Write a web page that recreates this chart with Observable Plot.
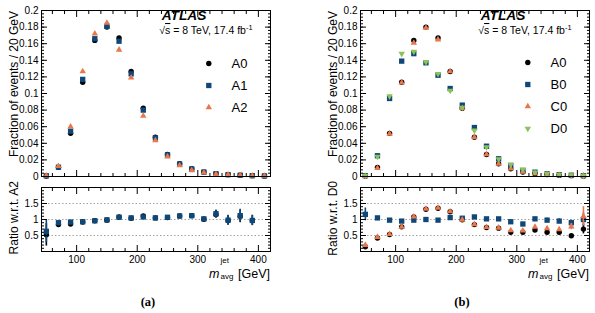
<!DOCTYPE html>
<html>
<head>
<meta charset="utf-8">
<script src="https://cdn.jsdelivr.net/npm/d3@7"></script>
<script src="https://cdn.jsdelivr.net/npm/@observablehq/plot@0.6"></script>
<style>
  body { margin: 0; background: #fff; }
  #fig { position: relative; width: 595px; height: 313px; overflow: hidden; background: #fff; }
  #fig svg { position: absolute; }
</style>
</head>
<body>
<div id="fig"></div>
<script>
// Jet-mass bin centres (GeV), 20 GeV bins
const massBins = [50, 70, 90, 110, 130, 150, 170, 190, 210, 230, 250, 270, 290, 310, 330, 350, 370, 390, 410];

// Normalised distributions (fraction of events per 20 GeV)
const fracA0 = [0.0005, 0.011, 0.052, 0.1136, 0.164, 0.180, 0.167, 0.1265, 0.0823, 0.0474, 0.0265, 0.0153, 0.0093, 0.0055, 0.0034, 0.0023, 0.0015, 0.0010, 0.0007];
const fracA1 = [0.0008, 0.0112, 0.0546, 0.117, 0.166, 0.181, 0.163, 0.1237, 0.0800, 0.0465, 0.0260, 0.0150, 0.0090, 0.0053, 0.0033, 0.0022, 0.0015, 0.0010, 0.0007];
const fracA2 = [0.0010, 0.0125, 0.060, 0.1265, 0.172, 0.185, 0.1526, 0.119, 0.0730, 0.0434, 0.0240, 0.0133, 0.0075, 0.0048, 0.0028, 0.0021, 0.0013, 0.0010, 0.0006];
const fracB0 = [0.0010, 0.025, 0.094, 0.139, 0.148, 0.137, 0.122, 0.106, 0.086, 0.059, 0.0365, 0.0213, 0.0133, 0.0072, 0.0052, 0.0032, 0.0022, 0.0015, 0.0010];
const fracC0 = [0.0003, 0.010, 0.0514, 0.113, 0.161, 0.179, 0.165, 0.1265, 0.0823, 0.0474, 0.0265, 0.0153, 0.0095, 0.0055, 0.0039, 0.0024, 0.0016, 0.0013, 0.0011];
const fracD0 = [0.0010, 0.024, 0.0968, 0.148, 0.1506, 0.138, 0.1237, 0.1036, 0.083, 0.0555, 0.0355, 0.0210, 0.0143, 0.0085, 0.0051, 0.0033, 0.0023, 0.0017, 0.0010];

// Ratios with respect to A2 (bins 50-390 GeV)
const ratioBinsA = [50, 70, 90, 110, 130, 150, 170, 190, 210, 230, 250, 270, 290, 310, 330, 350, 370, 390];
const ratioA0A2 = [0.52, 0.84, 0.86, 0.92, 0.96, 0.98, 1.08, 1.04, 1.11, 1.05, 1.06, 1.11, 1.12, 1.01, 1.16, 0.97, 1.10, 0.97];
const ratioA1A2 = [0.63, 0.90, 0.92, 0.93, 0.96, 0.99, 1.07, 1.05, 1.08, 1.05, 1.07, 1.11, 1.12, 1.02, 1.18, 0.98, 1.12, 0.97];
const errRatioA = [0.35, 0.04, 0.04, 0.03, 0.02, 0.02, 0.03, 0.03, 0.04, 0.03, 0.04, 0.05, 0.06, 0.05, 0.12, 0.15, 0.20, 0.16];

// Ratios with respect to D0 (bins 50-410 GeV)
const ratioA0D0 = [0.15, 0.42, 0.53, 0.77, 1.08, 1.32, 1.35, 1.24, 0.99, 0.84, 0.75, 0.73, 0.60, 0.60, 0.67, 0.60, 0.60, 0.49, 0.70];
const ratioB0D0 = [1.16, 1.05, 0.98, 0.95, 0.98, 1.00, 0.98, 1.06, 1.04, 1.08, 1.02, 1.02, 0.93, 0.86, 1.02, 0.98, 0.95, 0.90, 1.00];
const ratioC0D0 = [0.20, 0.45, 0.54, 0.77, 1.09, 1.33, 1.36, 1.25, 0.99, 0.85, 0.76, 0.74, 0.66, 0.65, 0.77, 0.72, 0.69, 0.78, 1.10];
const errA0D0 = [0.03, 0.02, 0.02, 0.02, 0.02, 0.02, 0.02, 0.02, 0.02, 0.02, 0.02, 0.02, 0.03, 0.03, 0.03, 0.03, 0.03, 0.04, 0.15];
const errB0D0 = [0.20, 0.03, 0.02, 0.02, 0.02, 0.02, 0.02, 0.02, 0.02, 0.03, 0.03, 0.03, 0.04, 0.04, 0.05, 0.06, 0.07, 0.08, 0.20];
const errC0D0 = [0.05, 0.02, 0.02, 0.02, 0.02, 0.02, 0.02, 0.02, 0.02, 0.02, 0.02, 0.03, 0.04, 0.04, 0.05, 0.05, 0.06, 0.10, 0.30];

// Axis ticks and labels
const xMajorTicks = [100, 200, 300, 400];
const xMinorTicks = d3.range(60, 420, 20).filter(v => v % 100 !== 0);
const yMainTicks = [0, 0.02, 0.04, 0.06, 0.08, 0.1, 0.12, 0.14, 0.16, 0.18, 0.2];
const yMainMinor = d3.range(0, 51).map(i => i * 0.004);
const yRatioTicks = [0.5, 1, 1.5];
const yRatioMinor = d3.range(0, 21).map(i => i * 0.1);

const FONT = "'Liberation Sans', Arial, Helvetica, sans-serif";
const BLACK = "#000000", BLUE = "#0e4778", ORANGE = "#e8784c", GREEN = "#8cc25a";

// down-pointing triangle (mirror of d3.symbolTriangle)
const sqrt3 = Math.sqrt(3);
const triangleDown = {
  draw(context, size) {
    const y = -Math.sqrt(size / (sqrt3 * 3));
    context.moveTo(0, -y * 2);
    context.lineTo(-sqrt3 * y, y);
    context.lineTo(sqrt3 * y, y);
    context.closePath();
  }
};

const markerStyle = {
  A0: {color: BLACK, symbol: "circle", r: 2.7},
  A1: {color: BLUE, symbol: "square", r: 3.0},
  A2: {color: ORANGE, symbol: "triangle", r: 2.4},
  B0: {color: BLUE, symbol: "square", r: 3.0},
  C0: {color: ORANGE, symbol: "triangle", r: 2.4},
  D0: {color: GREEN, symbol: triangleDown, r: 2.4}
};

const fig = document.getElementById("fig");
function place(node, left, top) {
  node.style.left = left + "px";
  node.style.top = top + "px";
  fig.appendChild(node);
}

// inward ROOT-style ticks on all four sides
function frameTicks(yMinor, yMajor) {
  const t = (k, anchor, ticks, len) =>
    (k === "x" ? Plot.axisX : Plot.axisY)(ticks, {anchor, tickSize: -len, fill: "none", label: null, stroke: "#000", strokeWidth: 1});
  return [
    t("x", "bottom", xMinorTicks, 3), t("x", "bottom", xMajorTicks, 6),
    t("x", "top", xMinorTicks, 3), t("x", "top", xMajorTicks, 6),
    t("y", "left", yMinor, 3), t("y", "left", yMajor, 6),
    t("y", "right", yMinor, 3), t("y", "right", yMajor, 6)
  ];
}

const fmtY = d => String(+d.toFixed(3));

function mainPanel(series) {
  return Plot.plot({
    width: 290, height: 185,
    marginLeft: 41, marginRight: 20, marginTop: 10, marginBottom: 9,
    x: {domain: [42, 420], axis: null},
    y: {domain: [0, 0.2], axis: null},
    style: {fontFamily: FONT, fontSize: "10px", overflow: "visible", background: "transparent"},
    marks: [
      ...series.map(([name, values]) => Plot.dot(massBins.map((m, i) => ({m, v: values[i]})), {
        x: "m", y: "v", r: markerStyle[name].r, symbol: markerStyle[name].symbol, fill: markerStyle[name].color
      })),
      Plot.frame({stroke: "#000"}),
      ...frameTicks(yMainMinor, yMainTicks),
      Plot.axisY(yMainTicks, {anchor: "left", tickSize: 0, tickPadding: 3, tickFormat: fmtY, label: null, fontSize: 10, fill: "#000"})
    ]
  });
}

function ratioPanel(bins, series) {
  return Plot.plot({
    width: 290, height: 95,
    marginLeft: 41, marginRight: 20, marginTop: 7, marginBottom: 24,
    x: {domain: [42, 420], axis: null},
    y: {domain: [0, 2], axis: null},
    style: {fontFamily: FONT, fontSize: "10px", overflow: "visible", background: "transparent"},
    marks: [
      Plot.ruleY(yRatioTicks, {stroke: "#8a8a8a", strokeDasharray: "1.5,2", strokeWidth: 0.8}),
      ...series.flatMap(([name, values, errs]) => {
        const rows = bins.map((m, i) => ({m, v: values[i], e: errs[i]}));
        return [
          Plot.ruleX(rows, {x: "m", y1: d => d.v - d.e, y2: d => d.v + d.e, stroke: markerStyle[name].color, strokeWidth: 1.6}),
          Plot.dot(rows, {x: "m", y: "v", r: markerStyle[name].r, symbol: markerStyle[name].symbol, fill: markerStyle[name].color})
        ];
      }),
      Plot.frame({stroke: "#000"}),
      ...frameTicks(yRatioMinor, yRatioTicks),
      Plot.axisY(yRatioTicks, {anchor: "left", tickSize: 0, tickPadding: 3, tickFormat: fmtY, label: null, fontSize: 10, fill: "#000"}),
      Plot.axisX(xMajorTicks, {anchor: "bottom", tickSize: 0, tickPadding: 4, label: null, fontSize: 10, fill: "#000"})
    ]
  });
}

function legendPanel(names, gap) {
  const pad = 10;
  return Plot.plot({
    width: 80, height: gap * (names.length - 1) + 2 * pad,
    margin: 0, marginTop: pad, marginBottom: pad,
    y: {type: "point", domain: names, padding: 0, axis: null},
    style: {fontFamily: FONT, overflow: "visible", background: "transparent"},
    marks: [
      ...names.map(n => Plot.dot([n], {y: d => d, frameAnchor: "left", dx: 13.3, r: markerStyle[n].r, symbol: markerStyle[n].symbol, fill: markerStyle[n].color})),
      Plot.text(names, {y: d => d, text: d => d, frameAnchor: "left", dx: 36, textAnchor: "start", fontSize: 13, fill: "#000"})
    ]
  });
}

// panel (a)
place(mainPanel([["A0", fracA0], ["A1", fracA1], ["A2", fracA2]]), 0, 0);
place(ratioPanel(ratioBinsA, [["A0", ratioA0A2, errRatioA], ["A1", ratioA1A2, errRatioA]]), 0, 180);
place(legendPanel(["A0", "A1", "A2"], 22.5), 195, 51.7);

// panel (b)
place(mainPanel([["A0", fracA0], ["B0", fracB0], ["C0", fracC0], ["D0", fracD0]]), 319, 0);
place(ratioPanel(massBins, [["A0", ratioA0D0, errA0D0], ["B0", ratioB0D0, errB0D0], ["C0", ratioC0D0, errC0D0]]), 319, 180);
place(legendPanel(["A0", "B0", "C0", "D0"], 22), 514, 51.7);

// titles and annotations
const ann = d3.create("svg").attr("width", 595).attr("height", 313)
  .style("left", "0px").style("top", "0px").style("font-family", FONT);

[["a", 0, "A2", 148], ["b", 319, "D0", 462]].forEach(([tag, off, ref, capX]) => {
  ann.append("text").attr("transform", `translate(${off + 18},11) rotate(-90)`)
    .attr("text-anchor", "end").attr("font-size", 12).text("Fraction of events / 20 GeV");
  ann.append("text").attr("transform", `translate(${off + 18},181) rotate(-90)`)
    .attr("text-anchor", "end").attr("font-size", 12).text(`Ratio w.r.t. ${ref}`);

  const xt = ann.append("g").attr("font-size", 12.5);
  xt.append("text").attr("x", off + 209).attr("y", 278).attr("font-style", "italic").text("m");
  xt.append("text").attr("x", off + 220.5).attr("y", 263).attr("font-size", 8).text("jet");
  xt.append("text").attr("x", off + 220.5).attr("y", 279).attr("font-size", 8).text("avg");
  xt.append("text").attr("x", off + 270).attr("y", 278).attr("text-anchor", "end").text("[GeV]");

  ann.append("text").attr("x", off + 161.7).attr("y", 20).attr("font-size", 13.7)
    .attr("font-weight", "bold").attr("font-style", "italic").text("ATLAS");
  const lumi = ann.append("text").attr("x", off + 159.3).attr("y", 34).attr("font-size", 10.5);
  lumi.append("tspan").text("\u221A");
  lumi.append("tspan").style("text-decoration", "overline").text("s");
  lumi.append("tspan").text(" = 8 TeV, 17.4 fb");
  lumi.append("tspan").attr("font-size", 7.5).attr("dy", -4).text("-1");

  ann.append("text").attr("x", capX).attr("y", 306)
    .attr("text-anchor", "middle").attr("font-family", "'Liberation Serif', 'DejaVu Serif', serif")
    .attr("font-weight", "bold").attr("font-size", 12.5).text(`(${tag})`);
});
fig.appendChild(ann.node());
</script>
</body>
</html>
